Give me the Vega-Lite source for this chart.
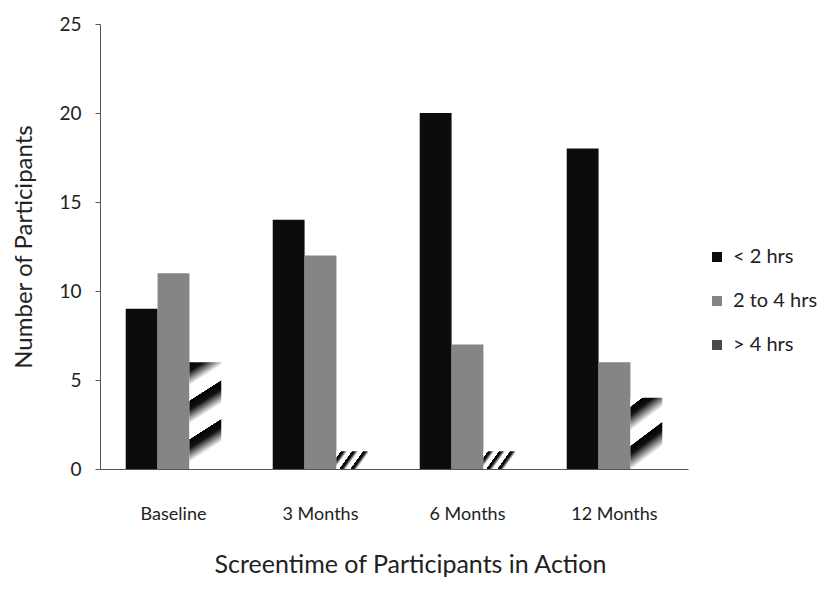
{
  "$schema": "https://vega.github.io/schema/vega-lite/v6.json",
  "autosize": {"type": "none"},
  "padding": {"left": 100, "top": 24, "right": 134, "bottom": 131},
  "width": 588,
  "height": 445,
  "background": "white",
  "config": {
    "view": {"stroke": null},
    "font": "Lato",
    "axis": {"labelFont": "Lato", "titleFont": "Lato", "labelColor": "#222", "titleColor": "#222", "titleFontWeight": "normal", "domainColor": "#555", "tickColor": "#555"}
  },
  "data": {
    "values": [
      {"period": "Baseline", "series": "< 2 hrs", "n": 9},
      {"period": "Baseline", "series": "2 to 4 hrs", "n": 11},
      {"period": "Baseline", "series": "> 4 hrs", "n": 6},
      {"period": "3 Months", "series": "< 2 hrs", "n": 14},
      {"period": "3 Months", "series": "2 to 4 hrs", "n": 12},
      {"period": "3 Months", "series": "> 4 hrs", "n": 1},
      {"period": "6 Months", "series": "< 2 hrs", "n": 20},
      {"period": "6 Months", "series": "2 to 4 hrs", "n": 7},
      {"period": "6 Months", "series": "> 4 hrs", "n": 1},
      {"period": "12 Months", "series": "< 2 hrs", "n": 18},
      {"period": "12 Months", "series": "2 to 4 hrs", "n": 6},
      {"period": "12 Months", "series": "> 4 hrs", "n": 4}
    ]
  },
  "mark": {"type": "bar"},
  "encoding": {
    "x": {
      "field": "period", "type": "nominal", "sort": ["Baseline", "3 Months", "6 Months", "12 Months"],
      "scale": {"paddingInner": 0.35, "paddingOuter": 0.175},
      "axis": {"title": "Screentime of Participants in Action", "labelAngle": 0, "ticks": false, "tickSize": 0, "labelPadding": 36, "labelFontSize": 18, "titleFontSize": 25, "titlePadding": 29, "titleX": 310, "domainWidth": 1}
    },
    "xOffset": {"field": "series", "type": "nominal", "sort": ["< 2 hrs", "2 to 4 hrs", "> 4 hrs"], "scale": {"paddingInner": 0, "paddingOuter": 0}},
    "y": {
      "field": "n", "type": "quantitative",
      "scale": {"domain": [0, 25]},
      "axis": {"title": "Number of Participants", "values": [0, 5, 10, 15, 20, 25], "grid": false, "tickSize": 5, "labelPadding": 14, "labelFontSize": 19, "titleFontSize": 24, "titlePadding": 22}
    },
    "color": {
      "field": "series", "type": "nominal",
      "scale": {"domain": ["< 2 hrs", "2 to 4 hrs", "> 4 hrs"], "range": ["#0c0c0c", "#858585", "#4a4a4a"]},
      "condition": [
        {"test": "datum.series === '> 4 hrs' && datum.period === 'Baseline'", "value": {"gradient": "linear", "x1": 0, "y1": 0, "x2": 0.2, "y2": 1.05, "stops": [
          {"offset": 0, "color": "#000"}, {"offset": 0.08, "color": "#111"}, {"offset": 0.2, "color": "#fff"}, {"offset": 0.33, "color": "#fff"},
          {"offset": 0.333, "color": "#000"}, {"offset": 0.41, "color": "#111"}, {"offset": 0.53, "color": "#fff"}, {"offset": 0.663, "color": "#fff"},
          {"offset": 0.666, "color": "#000"}, {"offset": 0.74, "color": "#111"}, {"offset": 0.86, "color": "#fff"}, {"offset": 1, "color": "#fff"}
        ]}},
        {"test": "datum.series === '> 4 hrs' && datum.period === '12 Months'", "value": {"gradient": "linear", "x1": 0, "y1": 0, "x2": 0.37, "y2": 1.1, "stops": [
          {"offset": 0, "color": "#fff"}, {"offset": 0.1, "color": "#fff"},
          {"offset": 0.105, "color": "#000"}, {"offset": 0.2, "color": "#111"}, {"offset": 0.38, "color": "#fff"}, {"offset": 0.55, "color": "#fff"},
          {"offset": 0.555, "color": "#000"}, {"offset": 0.65, "color": "#111"}, {"offset": 0.83, "color": "#fff"}, {"offset": 1, "color": "#fff"}
        ]}},
        {"test": "datum.series === '> 4 hrs'", "value": {"gradient": "linear", "x1": 0, "y1": 0, "x2": 1, "y2": 0.4, "stops": [
          {"offset": 0, "color": "#fff"}, {"offset": 0.12, "color": "#fff"},
          {"offset": 0.125, "color": "#000"}, {"offset": 0.2, "color": "#111"}, {"offset": 0.3, "color": "#fff"}, {"offset": 0.42, "color": "#fff"},
          {"offset": 0.425, "color": "#000"}, {"offset": 0.5, "color": "#111"}, {"offset": 0.6, "color": "#fff"}, {"offset": 0.72, "color": "#fff"},
          {"offset": 0.725, "color": "#000"}, {"offset": 0.8, "color": "#111"}, {"offset": 0.9, "color": "#fff"}, {"offset": 1, "color": "#fff"}
        ]}}
      ],
      "legend": {
        "title": null, "orient": "none", "legendX": 607, "legendY": 223, "symbolType": "square", "symbolSize": 100, "symbolStrokeWidth": 0,
        "labelFontSize": 20, "labelFont": "Lato", "labelColor": "#222", "rowPadding": 24, "labelOffset": 6
      }
    }
  }
}
